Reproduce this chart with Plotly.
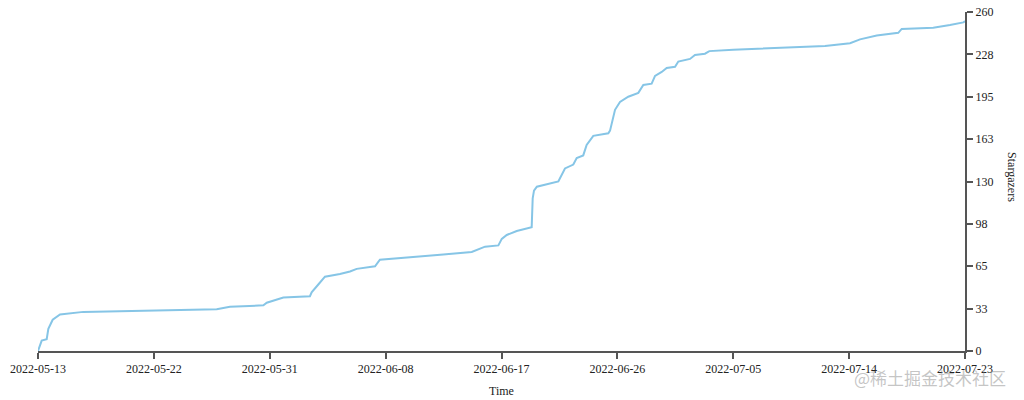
import plotly.graph_objects as go
import pandas as pd
import numpy as np

# cumulative stargazers over time
times = [
    "2022-05-13 07:00", "2022-05-13 13:48", "2022-05-13 23:00", "2022-05-14 02:00",
    "2022-05-14 10:00", "2022-05-14 23:30", "2022-05-16 18:15", "2022-05-22 03:00",
    "2022-05-26 23:30", "2022-05-27 23:45", "2022-05-30 13:20", "2022-05-30 19:30",
    "2022-06-01 02:00", "2022-06-03 02:55", "2022-06-03 06:00", "2022-06-03 18:15",
    "2022-06-04 06:30", "2022-06-05 10:00", "2022-06-06 04:30", "2022-06-06 16:50",
    "2022-06-08 02:30", "2022-06-08 11:30", "2022-06-11 07:00", "2022-06-13 08:00",
    "2022-06-15 12:15", "2022-06-15 18:20", "2022-06-16 12:45", "2022-06-17 13:15",
    "2022-06-17 19:30", "2022-06-18 04:40", "2022-06-18 23:00", "2022-06-20 02:30",
    "2022-06-20 04:20", "2022-06-20 06:45", "2022-06-20 12:00", "2022-06-22 03:30",
    "2022-06-22 15:40", "2022-06-23 07:00", "2022-06-23 13:15", "2022-06-24 01:15",
    "2022-06-24 07:30", "2022-06-24 19:45", "2022-06-25 23:20", "2022-06-26 02:30",
    "2022-06-26 11:40", "2022-06-26 20:50", "2022-06-27 12:00", "2022-06-28 06:30",
    "2022-06-28 15:40", "2022-06-29 07:00", "2022-06-29 13:15", "2022-06-30 01:30",
    "2022-06-30 10:40", "2022-07-01 02:00", "2022-07-01 08:00", "2022-07-02 05:30",
    "2022-07-02 14:40", "2022-07-03 09:00", "2022-07-03 17:00", "2022-07-05 13:00",
    "2022-07-10 15:40", "2022-07-12 13:40", "2022-07-14 11:40", "2022-07-15 06:00",
    "2022-07-16 12:45", "2022-07-18 04:20", "2022-07-18 10:40", "2022-07-20 20:40",
    "2022-07-22 03:25", "2022-07-23 03:50", "2022-07-23 07:00",
]
stars = [
    0, 8, 9, 17,
    24, 28, 30, 31,
    32, 34, 35, 37,
    41, 42, 45, 51,
    57, 59, 61, 63,
    65, 70, 72, 74,
    76, 77, 80, 81,
    86, 89, 92, 95,
    117, 123, 126, 130,
    140, 143, 148, 150,
    158, 165, 167, 169,
    185, 191, 195, 198,
    204, 205, 211, 214,
    217, 218, 222, 224,
    227, 228, 230, 231,
    233, 234, 236, 239,
    242, 244, 247, 248,
    250, 252, 253,
]

x_start = "2022-05-13 07:00"
x_end = "2022-07-23 07:00"
x_tick_labels = ["2022-05-13", "2022-05-22", "2022-05-31", "2022-06-08", "2022-06-17",
                 "2022-06-26", "2022-07-05", "2022-07-14", "2022-07-23"]
y_max = 260
y_tick_labels = ["0", "33", "65", "98", "130", "163", "195", "228", "260"]

x_tick_vals = pd.date_range(x_start, x_end, periods=len(x_tick_labels))
y_tick_vals = np.linspace(0, y_max, len(y_tick_labels))

font_family = "Liberation Serif"
axis_color = "#555555"
text_color = "#222222"

fig = go.Figure()
fig.add_trace(go.Scatter(
    x=pd.to_datetime(times), y=stars, mode="lines",
    line=dict(color="#86c5e6", width=2),
    hoverinfo="skip",
))

fig.update_layout(
    width=1024, height=400,
    autosize=False,
    margin=dict(l=38, r=59, t=12, b=49, pad=0, autoexpand=False),
    paper_bgcolor="white", plot_bgcolor="white",
    showlegend=False,
    font=dict(family=font_family, size=12, color=text_color),
    xaxis=dict(
        type="date", range=[x_start, x_end], automargin=False,
        tickmode="array", tickvals=x_tick_vals, ticktext=x_tick_labels,
        showgrid=False, zeroline=False,
        showline=True, linecolor=axis_color, linewidth=2,
        ticks="outside", ticklen=6, tickwidth=2, tickcolor=axis_color,
        tickfont=dict(family=font_family, size=12, color=text_color),
    ),
    yaxis=dict(
        side="right", range=[0, y_max], automargin=False,
        tickmode="array", tickvals=y_tick_vals, ticktext=y_tick_labels,
        showgrid=False, zeroline=False,
        showline=True, linecolor=axis_color, linewidth=2,
        ticks="outside", ticklen=6, tickwidth=2, tickcolor=axis_color,
        tickfont=dict(family=font_family, size=12, color=text_color),
    ),
    annotations=[
        dict(text="Time", xref="paper", yref="paper", x=0.5, y=0,
             yshift=-40, showarrow=False, yanchor="middle",
             font=dict(family=font_family, size=12, color=text_color)),
        dict(text="Stargazers", xref="paper", yref="paper", x=1, y=0.513,
             xshift=47, showarrow=False, textangle=90,
             xanchor="center", yanchor="middle",
             font=dict(family=font_family, size=12, color=text_color)),
        dict(text="@稀土掘金技术社区", xref="paper", yref="paper", x=1, y=0,
             xshift=43, yshift=-26, xanchor="right", yanchor="middle", showarrow=False,
             font=dict(family="Noto Sans CJK SC", size=17, color="rgba(140,140,140,0.5)")),
    ],
)

fig.write_html("out.html", config={"displayModeBar": False},
               post_script="document.body.style.margin='0px';")
